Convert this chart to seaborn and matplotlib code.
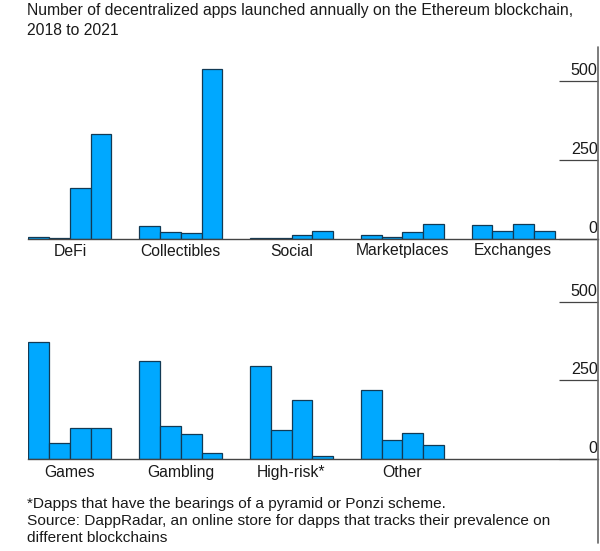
import matplotlib
matplotlib.use("Agg")
import matplotlib.pyplot as plt
from matplotlib.transforms import ScaledTranslation
import seaborn as sns
import pandas as pd

years = ["2018", "2019", "2020", "2021"]
top_categories = ["DeFi", "Collectibles", "Social", "Marketplaces", "Exchanges"]
top_values = [
    [5, 3, 161, 330],
    [41, 19, 16, 535],
    [3, 1, 12, 23],
    [12, 6, 19, 47],
    [44, 25, 47, 25],
]
bottom_categories = ["Games", "Gambling", "High-risk*", "Other"]
bottom_values = [
    [371, 52, 100, 97],
    [310, 106, 78, 19],
    [295, 93, 186, 8],
    [218, 59, 83, 43],
]
y_ticks = [0, 250, 500]
title_text = "Number of decentralized apps launched annually on the Ethereum blockchain,\n2018 to 2021"
note_text = ("*Dapps that have the bearings of a pyramid or Ponzi scheme.\n"
             "Source: DappRadar, an online store for dapps that tracks their prevalence on\n"
             "different blockchains")

W, H = 600, 551
BLUE = "#00A8FF"
INK = "#1a1a1a"
FONT = "Liberation Sans"

sns.set_theme(style="white")
plt.rcParams["font.family"] = FONT

fig = plt.figure(figsize=(W / 100, H / 100), dpi=100, facecolor="white")


def frame(cats, vals):
    return pd.DataFrame(
        [{"category": c, "year": y, "value": v}
         for c, row in zip(cats, vals) for y, v in zip(years, row)]
    )


def panel(cats, vals, base_y, unit_px, label_pad, ylabel_lift):
    left, right = 28.0, 597.7
    top_y = base_y - 190
    ax = fig.add_axes([left / W, 1 - base_y / H, (right - left) / W, (base_y - top_y) / H])
    sns.barplot(data=frame(cats, vals), x="category", y="value", hue="year",
                hue_order=years, order=cats, palette=[BLUE] * 4, width=0.751, gap=0,
                edgecolor="#123a55", linewidth=0.9, saturation=1, legend=False,
                errorbar=None, ax=ax)
    ax.set_xlim(-0.378, 4.763)
    ax.set_ylim(0, 190 / unit_px)
    ax.set_xlabel("")
    ax.set_ylabel("")
    for s in ["top", "left"]:
        ax.spines[s].set_visible(False)
    ax.spines["bottom"].set_color("#444444")
    ax.spines["bottom"].set_linewidth(1.0)
    ax.spines["right"].set_visible(False)
    ax.tick_params(axis="x", length=0, pad=label_pad, labelsize=11.3, labelcolor=INK)
    ax.yaxis.tick_right()
    ax.set_yticks(y_ticks, [str(t) for t in y_ticks])
    ax.tick_params(axis="y", direction="in", length=39 * 0.72, width=0.9, color="#444444",
                   pad=0, labelsize=11.6, labelcolor=INK)
    for lab in ax.get_yticklabels():
        lab.set_ha("right")
        lab.set_va("bottom")
        lab.set_transform(lab.get_transform() + ScaledTranslation(0, ylabel_lift / 72, fig.dpi_scale_trans))
    return ax


panel(top_categories, top_values, 238.5, 0.316, 3.6, 1.5)
panel(bottom_categories, bottom_values, 459.0, 0.3146, 4.4, 2.2)

fig.add_artist(plt.Line2D([597.7 / W] * 2, [1 - 47 / H, 1 - 543 / H], color="#666666", lw=1.2))
fig.text(27 / W, 1 - 3.5 / H, title_text, fontsize=11.3, color=INK, va="top", ha="left", linespacing=1.38)
fig.text(27 / W, 1 - 497 / H, note_text, fontsize=11.05, color=INK, va="top", ha="left", linespacing=1.27)

fig.savefig("out.png", dpi=100, facecolor="white")
